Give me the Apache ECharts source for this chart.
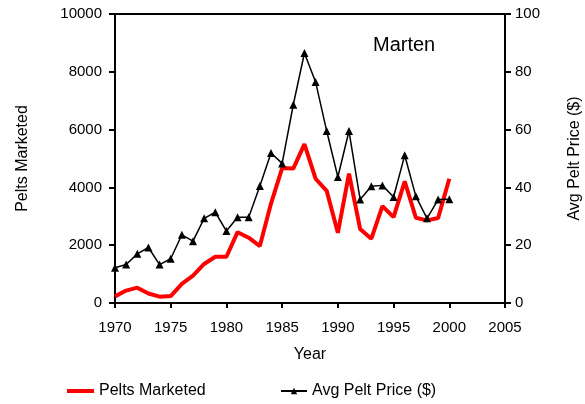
<!DOCTYPE html>
<html><head><meta charset="utf-8">
<script src="https://cdn.jsdelivr.net/npm/echarts@6/dist/echarts.min.js"></script>
<style>html,body{margin:0;padding:0;background:#fff}#c{width:585px;height:404px}</style>
</head><body><div id="c"></div>
<script>
const years = [1970,1971,1972,1973,1974,1975,1976,1977,1978,1979,1980,1981,1982,1983,1984,1985,1986,1987,1988,1989,1990,1991,1992,1993,1994,1995,1996,1997,1998,1999,2000];
const pelts = [230,430,530,330,220,240,660,950,1350,1600,1600,2450,2260,1970,3440,4670,4650,5500,4300,3880,2430,4480,2560,2220,3350,2970,4210,2950,2860,2940,4300];
const prices = [12.2,13.3,17.0,19.2,13.3,15.3,23.6,21.4,29.3,31.4,24.9,29.7,29.7,40.5,51.9,48.3,68.6,86.5,76.5,59.5,43.6,59.5,35.8,40.4,40.7,36.7,51.1,36.9,29.3,35.8,35.9];
const font = 'Liberation Sans, Arial, sans-serif';
const chart = echarts.init(document.getElementById('c'), null, {renderer:'canvas'});
const axisStyle = {lineStyle:{color:'#000', width:2}};
const plain = v => String(v);
chart.setOption({
  animation:false,
  textStyle:{fontFamily:font, color:'#000'},
  title:{text:'Marten', left:368, top:30, textStyle:{fontFamily:font, fontSize:20, fontWeight:'normal', color:'#000'}},
  grid:{left:115, right:80, top:14, bottom:101, containLabel:false, outerBoundsMode:'none', show:true, borderColor:'#000', borderWidth:2, backgroundColor:'transparent'},
  legend:[
    {data:[{name:'Pelts Marketed', icon:'rect'}], left:67, top:383, padding:0, itemWidth:27, itemHeight:4, textStyle:{fontFamily:font, fontSize:16, color:'#000'}},
    {data:['Avg Pelt Price ($)'], left:280, top:383, padding:0, itemWidth:26, itemHeight:8, textStyle:{fontFamily:font, fontSize:16, color:'#000'}}
  ],
  xAxis:{type:'value', min:1970, max:2005, interval:5, name:'Year', nameLocation:'middle', nameGap:44,
    nameTextStyle:{fontFamily:font, fontSize:16, color:'#000'},
    axisLine:axisStyle, axisTick:{show:true, length:5, lineStyle:{color:'#000', width:2}},
    axisLabel:{fontFamily:font, fontSize:15, color:'#000', margin:17, formatter:plain}, splitLine:{show:false}},
  yAxis:[
    {type:'value', min:0, max:10000, interval:2000, name:'Pelts Marketed', nameLocation:'middle', nameGap:84, nameRotate:90,
      nameTextStyle:{fontFamily:font, fontSize:16, color:'#000'},
      axisLine:{show:true, ...axisStyle}, axisTick:{show:true, length:6, lineStyle:{color:'#000', width:2}},
      axisLabel:{fontFamily:font, fontSize:15, color:'#000', margin:13, formatter:plain}, splitLine:{show:false}},
    {type:'value', min:0, max:100, interval:20, name:'Avg Pelt Price ($)', nameLocation:'middle', nameGap:62, nameRotate:90,
      nameTextStyle:{fontFamily:font, fontSize:16, color:'#000'},
      axisLine:{show:true, ...axisStyle}, axisTick:{show:true, length:6, lineStyle:{color:'#000', width:2}},
      axisLabel:{fontFamily:font, fontSize:15, color:'#000', margin:10, formatter:plain}, splitLine:{show:false}}
  ],
  series:[
    {name:'Pelts Marketed', type:'line', yAxisIndex:0, data:years.map((y,i)=>[y,pelts[i]]),
      symbol:'none', lineStyle:{color:'#ff0000', width:4}, itemStyle:{color:'#ff0000'}, z:2},
    {name:'Avg Pelt Price ($)', type:'line', yAxisIndex:1, data:years.map((y,i)=>[y,prices[i]]),
      symbol:'triangle', symbolSize:8, lineStyle:{color:'#000', width:1.5}, itemStyle:{color:'#000'}, z:3}
  ]
});
</script></body></html>
